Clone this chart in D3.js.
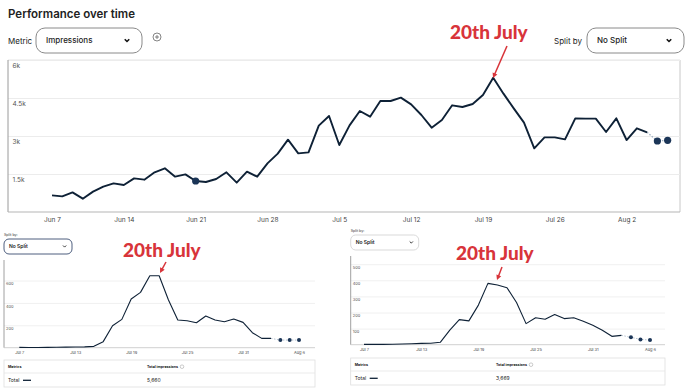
<!DOCTYPE html>
<html>
<head>
<meta charset="utf-8">
<script src="https://cdn.jsdelivr.net/npm/d3@7"></script>
<style>
body { margin: 0; background: #fff; }
text { font-family: Inter, "Liberation Sans", sans-serif; }
.note { font-family: Lato, "Open Sans", sans-serif; font-weight: 900; fill: #d8343a; }
</style>
</head>
<body>
<div id="chart"></div>
<script>
// big chart: daily impressions, Jun 7 .. Aug 6
var topStart = "2023-06-07";
var topValues = [658, 618, 776, 526, 803, 1000, 1130, 1066, 1329, 1276, 1566, 1724, 1395, 1487, 1224,
  1184, 1303, 1566, 1158, 1592, 1395, 1921, 2303, 2855, 2316, 2355, 3408, 3789, 2645, 3420,
  3987, 3763, 4382, 4382, 4513, 4250, 3829, 3329, 3632, 4211, 4145, 4263, 4618, 5303, 4671,
  4092, 3526, 2513, 2947, 2947, 2868, 3697, 3684, 3684, 3158, 3697, 2842, 3303, 3145, 2803, 2829];
var topXTicks = ["2023-06-07", "2023-06-14", "2023-06-21", "2023-06-28", "2023-07-05",
  "2023-07-12", "2023-07-19", "2023-07-26", "2023-08-02"];
var topYTicks = [1500, 3000, 4500, 6000];
var topSolidEnd = 58;      // last day drawn solid
var topMarked = [14];      // single marker inside the solid line

// small screenshots: Jul 7 .. Aug 6
var smallStart = "2023-07-07";
var leftValues = [3, 2, 2, 3, 4, 5, 6, 7, 12, 54, 196, 253, 435, 494, 643, 643, 426, 247, 241, 223,
  283, 247, 232, 256, 226, 134, 83, 83, 68, 68, 68];
var rightValues = [2, 2, 2, 3, 4, 6, 8, 9, 15, 90, 156, 148, 246, 381, 371, 354, 262, 131, 167, 158,
  188, 162, 167, 146, 121, 90, 52, 58, 46, 33, 29];
var smallXTicks = ["2023-07-07", "2023-07-13", "2023-07-19", "2023-07-25", "2023-07-31", "2023-08-06"];
var leftYTicks = [200, 400, 600];
var rightYTicks = [100, 200, 300, 400, 500];
var smallSolidEnd = 27;
var leftTotal = "5,660";
var rightTotal = "3,669";

var parse = d3.timeParse("%Y-%m-%d");
var fmt = d3.timeFormat("%b %-d");
var lineColor = "#0e2136";
var dotColor = "#1b3557";

function toRows(start, values) {
  var s = parse(start);
  return values.map(function(v, i) {
    return { date: d3.timeDay.offset(s, i), value: v };
  });
}

var svg = d3.select("#chart").append("svg")
  .attr("width", 690).attr("height", 388);

// ---------- header ----------
svg.append("text").attr("x", 8).attr("y", 18)
  .attr("font-size", 11.5).attr("font-weight", 600).attr("fill", "#222")
  .text("Performance over time");

function dropdown(x, y, w, h, label, stroke, fs, r) {
  svg.append("rect").attr("x", x).attr("y", y).attr("width", w).attr("height", h)
    .attr("rx", r).attr("fill", "#fff").attr("stroke", stroke).attr("stroke-width", 1);
  svg.append("text").attr("x", x + h * 0.4).attr("y", y + h / 2 + fs * 0.36)
    .attr("font-size", fs).attr("fill", "#222").attr("font-weight", 500).text(label);
  var cx = x + w - h * 0.6, cy = y + h / 2;
  svg.append("path").attr("d", `M${cx - h * 0.09},${cy - h * 0.05}l${h * 0.09},${h * 0.09}l${h * 0.09},${-h * 0.09}`)
    .attr("fill", "none").attr("stroke", "#111").attr("stroke-width", h / 16);
}

svg.append("text").attr("x", 8).attr("y", 44).attr("font-size", 8).attr("fill", "#222").text("Metric");
dropdown(36, 28, 106, 25, "Impressions", "#8a8a8a", 8, 9);
svg.append("circle").attr("cx", 157).attr("cy", 37).attr("r", 4)
  .attr("fill", "none").attr("stroke", "#666").attr("stroke-width", 0.8);
svg.append("path").attr("d", "M155,37h4M157,35v4").attr("stroke", "#666").attr("stroke-width", 0.8);
svg.append("text").attr("x", 554).attr("y", 44).attr("font-size", 8).attr("fill", "#222").text("Split by");
dropdown(587, 28, 97, 25, "No Split", "#8a8a8a", 8, 9);

// ---------- big chart ----------
var topRows = toRows(topStart, topValues);
var xTop = d3.scaleTime()
  .domain([parse("2023-06-07"), parse("2023-08-02")])
  .range([52, 626.6]);
var yTop = d3.scaleLinear().domain([0, 6000]).range([212, 60]);

var gTop = svg.append("g");
gTop.append("line").attr("x1", 8).attr("x2", 680).attr("y1", 60).attr("y2", 60).attr("stroke", "#e4e4e4");
gTop.append("line").attr("x1", 680).attr("x2", 680).attr("y1", 60).attr("y2", 212).attr("stroke", "#c8c8c8");

var yAxisTop = gTop.append("g").attr("transform", "translate(8,0)")
  .call(d3.axisRight(yTop).tickValues(topYTicks).tickSize(672)
    .tickFormat(function(d) { return d3.format("~")(d / 1000) + "k"; }));
yAxisTop.select(".domain").remove();
yAxisTop.selectAll(".tick line").attr("stroke", "#ececec");
yAxisTop.selectAll(".tick text").attr("x", 4.5).attr("dy", 7)
  .attr("font-size", 6.5).attr("fill", "#555").attr("font-family", "Inter, sans-serif");

gTop.append("line").attr("x1", 8).attr("x2", 8).attr("y1", 60).attr("y2", 212).attr("stroke", "#9a9a9a");
gTop.append("line").attr("x1", 8).attr("x2", 680).attr("y1", 212).attr("y2", 212).attr("stroke", "#b5b5b5");

var xAxisTop = gTop.append("g").attr("transform", "translate(0,212)")
  .call(d3.axisBottom(xTop).tickValues(topXTicks.map(parse)).tickSize(0).tickFormat(fmt));
xAxisTop.select(".domain").remove();
xAxisTop.selectAll(".tick text").attr("dy", 6.8)
  .attr("font-size", 6.5).attr("fill", "#444").attr("font-family", "Inter, sans-serif");

function drawSeries(g, rows, x, y, solidEnd, width, dotR, marked) {
  var line = d3.line().x(function(d) { return x(d.date); }).y(function(d) { return y(d.value); });
  g.append("path").datum(rows.slice(solidEnd))
    .attr("d", line).attr("fill", "none")
    .attr("stroke", "#9fb0c2").attr("stroke-width", width * 0.7).attr("stroke-dasharray", "1.5,1.5");
  g.append("path").datum(rows.slice(0, solidEnd + 1))
    .attr("d", line).attr("fill", "none")
    .attr("stroke", lineColor).attr("stroke-width", width).attr("stroke-linejoin", "round");
  var dots = rows.slice(solidEnd + 1).concat(marked.map(function(i) { return rows[i]; }));
  g.selectAll(null).data(dots).enter().append("circle")
    .attr("cx", function(d) { return x(d.date); })
    .attr("cy", function(d) { return y(d.value); })
    .attr("r", dotR).attr("fill", dotColor);
}
drawSeries(gTop, topRows, xTop, yTop, topSolidEnd, 1.9, 3.6, topMarked);

// ---------- small screenshot charts ----------
function smallChart(cfg) {
  var rows = toRows(smallStart, cfg.values);
  var x = d3.scaleTime()
    .domain([parse("2023-07-07"), parse("2023-08-06")])
    .range([cfg.x0, cfg.x1]);
  var y = d3.scaleLinear().domain([0, cfg.yMax]).range([cfg.base, cfg.yMaxPx]);
  var g = svg.append("g");

  g.append("text").attr("x", cfg.left).attr("y", cfg.ddY - 3).attr("font-size", 3.6)
    .attr("fill", "#333").text("Split by:");
  svg.append("rect").attr("x", cfg.left).attr("y", cfg.ddY).attr("width", 68).attr("height", 15)
    .attr("rx", 5).attr("fill", "#fff").attr("stroke", cfg.ddStroke).attr("stroke-width", cfg.ddWidth);
  svg.append("text").attr("x", cfg.left + 5).attr("y", cfg.ddY + 9.3).attr("font-size", 5)
    .attr("font-weight", 600).attr("fill", "#222").text("No Split");
  svg.append("path").attr("d", `M${cfg.left + 59},${cfg.ddY + 6.5}l1.6,1.6l1.6,-1.6`)
    .attr("fill", "none").attr("stroke", "#222").attr("stroke-width", 0.9);

  var yAxis = g.append("g").attr("transform", `translate(${cfg.left},0)`)
    .call(d3.axisRight(y).tickValues(cfg.yTicks).tickSize(cfg.right - cfg.left));
  yAxis.select(".domain").remove();
  yAxis.selectAll(".tick line").attr("stroke", "#f0f0f0");
  yAxis.selectAll(".tick text").attr("x", 2).attr("dy", 4.3)
    .attr("font-size", 4).attr("fill", "#555").attr("font-family", "Inter, sans-serif");
  g.append("line").attr("x1", cfg.left).attr("x2", cfg.left).attr("y1", cfg.top).attr("y2", cfg.base)
    .attr("stroke", "#888").attr("stroke-width", 0.8);
  g.append("line").attr("x1", cfg.left).attr("x2", cfg.right).attr("y1", cfg.base).attr("y2", cfg.base)
    .attr("stroke", "#c4c4c4").attr("stroke-width", 0.8);

  var xAxis = g.append("g").attr("transform", `translate(0,${cfg.base})`)
    .call(d3.axisBottom(x).tickValues(smallXTicks.map(parse)).tickSize(0).tickFormat(fmt));
  xAxis.select(".domain").remove();
  xAxis.selectAll(".tick text").attr("dy", 3.6)
    .attr("font-size", 4).attr("fill", "#444").attr("font-family", "Inter, sans-serif");

  drawSeries(g, rows, x, y, smallSolidEnd, 1.1, 2, []);

  // totals table
  var t = cfg.table;
  g.append("rect").attr("x", cfg.left).attr("y", t).attr("width", cfg.right - cfg.left).attr("height", 27)
    .attr("fill", "#fff").attr("stroke", "#dedede").attr("stroke-width", 0.8);
  g.append("line").attr("x1", cfg.left).attr("x2", cfg.right).attr("y1", t + 13).attr("y2", t + 13)
    .attr("stroke", "#e6e6e6").attr("stroke-width", 0.8);
  g.append("text").attr("x", cfg.left + 4).attr("y", t + 8).attr("font-size", 3.6)
    .attr("font-weight", 700).attr("fill", "#222").text("Metrics");
  g.append("text").attr("x", cfg.colX).attr("y", t + 8).attr("font-size", 3.6)
    .attr("font-weight", 700).attr("fill", "#222").text("Total impressions");
  g.append("circle").attr("cx", cfg.colX + 35).attr("cy", t + 6.7).attr("r", 1.8)
    .attr("fill", "none").attr("stroke", "#999").attr("stroke-width", 0.5);
  g.append("text").attr("x", cfg.left + 4).attr("y", t + 22).attr("font-size", 5)
    .attr("fill", "#222").text("Total");
  g.append("line").attr("x1", cfg.left + 19).attr("x2", cfg.left + 27).attr("y1", t + 20.3).attr("y2", t + 20.3)
    .attr("stroke", lineColor).attr("stroke-width", 1.3);
  g.append("text").attr("x", cfg.colX).attr("y", t + 22).attr("font-size", 5)
    .attr("fill", "#222").text(cfg.total);
}

smallChart({
  values: leftValues, yTicks: leftYTicks, yMax: 600, total: leftTotal,
  left: 4, right: 315, top: 260, base: 347.7, yMaxPx: 280.5,
  x0: 19.3, x1: 299, ddY: 239, ddStroke: "#3a4d70", ddWidth: 0.9, table: 360, colX: 147
});
smallChart({
  values: rightValues, yTicks: rightYTicks, yMax: 500, total: rightTotal,
  left: 350.7, right: 665, top: 256, base: 344.7, yMaxPx: 264.2,
  x0: 364, x1: 650, ddY: 235, ddStroke: "#cfcfcf", ddWidth: 0.8, table: 358, colX: 496
});

// ---------- red annotations ----------
function note(x, y, x1, y1, x2, y2) {
  svg.append("text").attr("class", "note").attr("x", x).attr("y", y)
    .attr("font-size", 19).text("20th July");
  var a = Math.atan2(y2 - y1, x2 - x1);
  svg.append("line").attr("x1", x1).attr("y1", y1)
    .attr("x2", x2 - 3 * Math.cos(a)).attr("y2", y2 - 3 * Math.sin(a))
    .attr("stroke", "#d8343a").attr("stroke-width", 1.5);
  var p = [[x2, y2],
    [x2 - 5 * Math.cos(a) + 2.6 * Math.sin(a), y2 - 5 * Math.sin(a) - 2.6 * Math.cos(a)],
    [x2 - 5 * Math.cos(a) - 2.6 * Math.sin(a), y2 - 5 * Math.sin(a) + 2.6 * Math.cos(a)]];
  svg.append("path").attr("d", "M" + p.join("L") + "Z").attr("fill", "#d8343a");
}
note(450, 38.5, 507, 46, 493, 78);
note(123, 257, 166, 262, 160, 273);
note(456, 260, 502, 267, 497, 280);
</script>
</body>
</html>
